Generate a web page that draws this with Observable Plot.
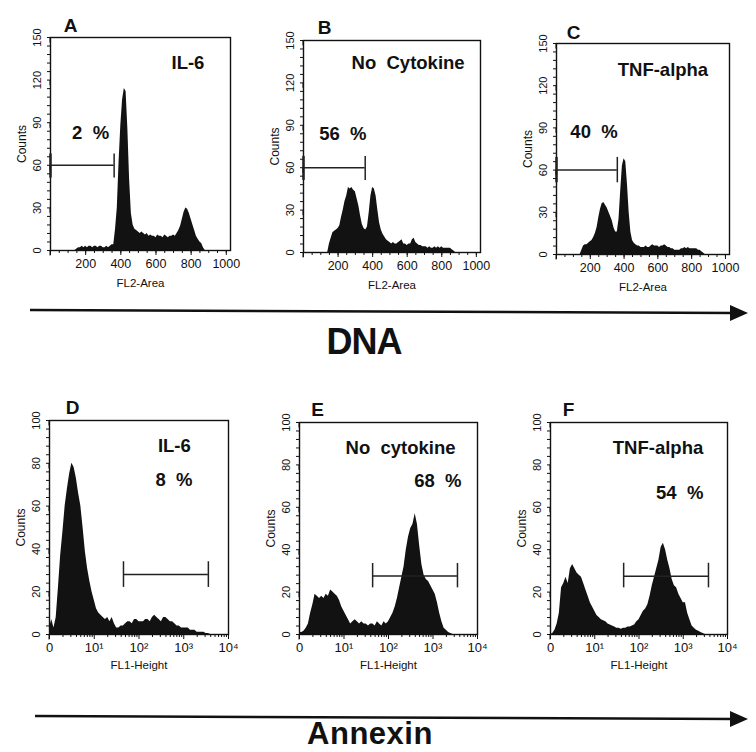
<!DOCTYPE html>
<html><head><meta charset="utf-8">
<script src="https://cdn.jsdelivr.net/npm/d3@7"></script>
<script src="https://cdn.jsdelivr.net/npm/@observablehq/plot@0.6"></script>
<style>
html,body{margin:0;padding:0;background:#fff;}
#fig{position:relative;width:756px;height:752px;overflow:hidden;background:#fff;font-family:"Liberation Sans",Arial,Helvetica,sans-serif;}
.panel{position:absolute;}
.panel svg{background:transparent !important;overflow:visible;}
.deco{position:absolute;left:0;top:0;}
</style></head><body><div id="fig"></div>
<script>
// ---------- DATA ----------
// DNA histograms (FL2-Area channel bins, 140..880 step 10)
const dnaChannels = d3.range(140, 881, 10);
const countsA_IL6 = [
  0,1,2,2,3,2,3,2,3,3,
  2,3,3,2,3,3,2,2,3,2,
  3,4,4,15,30,62,88,106,114,112,
  86,50,26,18,15,14,13,12,13,12,
  11,12,10,11,10,10,9,11,10,10,
  9,11,10,9,10,10,11,10,12,14,
  17,22,27,30,29,26,22,18,14,10,
  8,6,5,2,0];
const countsB_None = [
  0,6,10,14,15,16,17,19,25,30,
  36,40,46,45,46,44,43,38,33,26,
  20,17,16,18,28,40,46,45,40,30,
  21,16,13,11,9,8,7,6,7,6,
  6,7,8,9,6,6,5,6,6,9,
  10,7,6,5,5,4,4,4,3,4,
  3,3,4,3,4,3,4,3,3,3,
  3,3,2,1,0];
const countsC_TNF = [
  0,3,6,7,7,8,9,10,12,15,
  19,26,32,36,37,35,33,30,27,24,
  19,16,16,25,45,63,68,66,50,30,
  16,10,8,7,6,6,5,5,5,6,
  5,5,6,7,6,6,6,5,6,6,
  7,6,5,5,4,4,3,3,3,3,
  4,4,5,4,5,4,4,4,4,4,
  3,3,2,1,0];
// Annexin histograms (FL1-Height, log decades 0..4 step 0.05)
const annexinDecades = d3.range(81).map(i => i / 20);
const countsD_IL6 = [
  3,7,3,8,22,37,48,60,68,75,
  80,78,73,66,60,50,39,31,25,20,
  16,12,10,9,8,7,8,6,8,5,
  3,3,4,4,5,6,6,5,7,7,
  6,6,6,7,7,6,8,9,8,7,
  6,8,8,7,6,6,5,4,4,3,
  3,3,3,2,2,2,1,1,1,1,
  0.5,0.5,0,0,0,0,0,0,0,0,
  0];
const countsE_None = [
  1,1,1.5,3,5,10,14,19,18,17,
  18,17,19,18,21,20,19,18,16,13,
  11,9,7,5,6,7,6,5,6,5,
  5,4,5,5,4,6,5,4,6,5,
  6,8,10,13,17,22,27,32,40,46,
  50,52,57,52,42,33,28,26,25,23,
  21,19,15,10,6,3,2,1,0.5,0,
  0,0,0,0,0,0,0,0,0,0,
  0];
const countsF_TNF = [
  0,0.5,2,5,10,22,24,27,24,31,
  33,31,29,28,27,24,21,18,15,13,
  11,9,8,7,6.5,6,5,4.5,4,3.5,
  3,3,2.5,3,3,3.5,3.5,4,4.5,6,
  7,9,11,12,14,18,23,27,31,35,
  41,43,40,35,31,26,23,22,19,17,
  15,15,10,7,4,3,2,1.5,1,0.5,
  0,0,0,0,0,0,0,0,0,0,
  0];

const panelLetters = ["A","B","C","D","E","F"];
const treatments = ["IL-6","No  Cytokine","TNF-alpha","IL-6","No  cytokine","TNF-alpha"];
const percents = ["2  %","56  %","40  %","8  %","68  %","54  %"];
const dnaTicks = [0,200,400,600,800,1000];
const dnaYTicks = [0,30,60,90,120,150];
const annexinXTicks = [1,10,100,1000,10000];
const annexinXLabels = ["0","10¹","10²","10³","10⁴"];
const annexinYTicks = [0,20,40,60,80,100];
// gates: [x1, x2, y, yLow, yHigh]
const gates = [
  [0,362,60,51,68],[0,357,60,51,68],[0,360,60,51,69],
  [45,3548,28,22,34],[44,3548,27.6,22,33.5],[45,3715,27.5,22,33.6]
];

// ---------- LAYOUT ----------
const M = {top:30,left:50,right:10,bottom:40};
const frames = [
  {x:50,y:37,w:180,h:213},{x:303,y:40,w:177,h:212},{x:556,y:43,w:173,h:211},
  {x:49,y:420,w:179,h:214},{x:299,y:422,w:178,h:212},{x:550,y:422,w:177,h:212}
];
// annotation positions in data coordinates [x, y]
const treatPos = [[782,132],[605,134],[630,131],[10**2.79,88],[10**2.27,88],[10**2.43,88]];
const pctPos = [[228,83],[228,84],[222,87],[10**2.78,72],[10**3.11,72.6],[10**2.92,66.5]];
const letterOff = [[20,-6],[21,-7],[17,-5],[23,-7],[18,-7],[18,-7]];

const series = [countsA_IL6,countsB_None,countsC_TNF,countsD_IL6,countsE_None,countsF_TNF];
const fig = document.getElementById("fig");
const FONT = "Liberation Sans, Arial, Helvetica, sans-serif";

series.forEach((ys, i) => {
  const isLog = i >= 3;
  const xs = isLog ? annexinDecades : dnaChannels;
  const data = xs.map((x, j) => ({x: isLog ? 10 ** x : x, y: ys[j]}));
  const f = frames[i];
  const g = gates[i];
  const ymax = isLog ? 100 : 150;
  const minorY = isLog ? d3.range(0,101,4) : d3.range(0,151,6);
  const minorX = isLog ? d3.range(0,4).flatMap(d => d3.range(2,10).map(k => k * 10 ** d)) : d3.range(0,1025,50);
  const marks = [
    Plot.areaY(data, {x:"x", y:"y", fill:"#121212", curve:"linear"}),
    Plot.frame({stroke:"#111", strokeWidth:1.4}),
    // gate
    Plot.ruleY([g], {x1:d=>d[0], x2:d=>d[1], y:d=>d[2], stroke:"#222", strokeWidth:1.5}),
    Plot.ruleX([g], {x:d=>d[0], y1:d=>d[3], y2:d=>d[4], stroke:"#222", strokeWidth: isLog ? 1.5 : 2.5}),
    Plot.ruleX([g], {x:d=>d[1], y1:d=>d[3], y2:d=>d[4], stroke:"#222", strokeWidth:1.5}),
    // y axis
    Plot.axisY({ticks: isLog ? annexinYTicks : dnaYTicks, tickSize:5, tickPadding:8, rotate:-90, textAnchor:"middle",
      fontSize:11, label:null}),
    Plot.text(["Counts"], {frameAnchor:"left", dx:-28, text:d=>d, rotate:-90, fontSize:12, textAnchor:"middle", lineAnchor:"middle", fill:"#111"}),
    Plot.axisY({ticks:minorY, tickSize:3, tickFormat:()=>"", label:null}),
    // x axis
    isLog
      ? Plot.axisX({ticks:annexinXTicks, tickSize:5, tickPadding:3, fontSize:13,
          tickFormat:(d)=>annexinXLabels[annexinXTicks.indexOf(d)], label:null})
      : Plot.axisX({ticks:dnaTicks, tickSize:5, tickPadding:4, fontSize:12.5,
          tickFormat:(d)=> d === 0 ? "" : String(d), label:null}),
    Plot.text([isLog ? "FL1-Height" : "FL2-Area"], {frameAnchor:"bottom", dy: isLog ? 31 : 33, text:d=>d, fontSize:11.5,
      textAnchor:"middle", lineAnchor:"middle", fill:"#111"}),
    Plot.axisX({ticks:minorX, tickSize:3, tickFormat:()=>"", label:null}),
    // annotations
    Plot.text([treatments[i]], {x:treatPos[i][0], y:treatPos[i][1], text:d=>d, fontSize:18.5, fontWeight:"bold",
      textAnchor:"middle", lineAnchor:"middle", fill:"#111", style:"letter-spacing:1.3px"}),
    Plot.text([percents[i]], {x:pctPos[i][0], y:pctPos[i][1], text:d=>d, fontSize:18.5, fontWeight:"bold",
      textAnchor:"middle", lineAnchor:"middle", fill:"#111"}),
    Plot.text([panelLetters[i]], {frameAnchor:"top-left", dx:letterOff[i][0], dy:letterOff[i][1], text:d=>d,
      fontSize:19, fontWeight:"bold", textAnchor:"middle", lineAnchor:"bottom", fill:"#111"})
  ];
  const chart = Plot.plot({
    width: f.w + M.left + M.right,
    height: f.h + M.top + M.bottom,
    marginTop: M.top, marginLeft: M.left, marginRight: M.right, marginBottom: M.bottom,
    style: {fontFamily: FONT, fontSize:"11px", color:"#111", background:"transparent", overflow:"visible"},
    x: isLog ? {type:"log", domain:[1,10000]} : {type:"linear", domain:[0,1024]},
    y: {domain:[0,ymax]},
    marks
  });
  chart.querySelectorAll("text").forEach(t => { if (t.textContent.includes("  ")) t.setAttribute("xml:space","preserve"); });
  const wrap = document.createElement("div");
  wrap.className = "panel";
  wrap.style.left = (f.x - M.left) + "px";
  wrap.style.top = (f.y - M.top) + "px";
  wrap.appendChild(chart);
  fig.appendChild(wrap);
});

// ---------- arrows and axis titles ----------
const ns = "http://www.w3.org/2000/svg";
const deco = document.createElementNS(ns, "svg");
deco.setAttribute("width", 756); deco.setAttribute("height", 752);
deco.setAttribute("class", "deco");
deco.innerHTML = `
  <line x1="30" y1="310" x2="734" y2="313" stroke="#111" stroke-width="2.6"/>
  <polygon points="730,305 748,313 730,321" fill="#111"/>
  <text x="364" y="354" text-anchor="middle" font-family="${FONT}" font-weight="bold" font-size="36" fill="#111" style="letter-spacing:-1px">DNA</text>
  <line x1="35" y1="716" x2="734" y2="719" stroke="#111" stroke-width="2.6"/>
  <polygon points="730,711 748,719 730,727" fill="#111"/>
  <text x="370" y="744" text-anchor="middle" font-family="${FONT}" font-weight="bold" font-size="31" fill="#111" style="letter-spacing:0.5px">Annexin</text>`;
fig.appendChild(deco);
</script></body></html>
